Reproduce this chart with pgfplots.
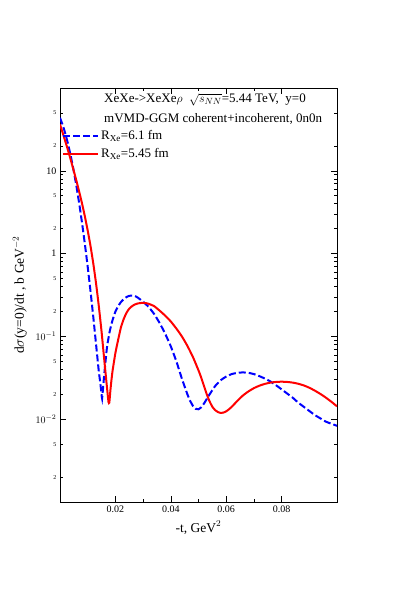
\documentclass[border=0pt]{standalone}
\usepackage{fontspec}
\setmainfont{Liberation Serif}
\usepackage{pgfplots}
\pgfplotsset{compat=1.18}
\begin{document}
\begin{tikzpicture}[x=1pt,y=1pt]
\path (0,0) rectangle (395,593);
\begin{axis}[
  at={(60pt,91pt)}, anchor=south west,
  scale only axis, width=277pt, height=414pt,
  xmin=0, xmax=0.1, ymode=log, ymin=1e-3, ymax=100,
  xtick={0.02,0.04,0.06,0.08},
  xticklabels={0.02,0.04,0.06,0.08},
  minor x tick num=1,
  ytick={0.01,0.1,1,10},
  yticklabels={$10^{-2}$,$10^{-1}$,1,10},
  extra y ticks={0.002,0.005,0.02,0.05,0.2,0.5,2,5,20,50},
  extra y tick labels={2,5,2,5,2,5,2,5,2,5},
  extra y tick style={major tick length=3pt, tick label style={font=\fontsize{6}{7}\selectfont}},
  major tick length=6pt, minor tick length=3pt,
  tick style={black, line width=0.5pt},
  axis line style={line width=0.9pt},
  tick label style={font=\fontsize{10}{12}\selectfont},
  /pgf/number format/assume math mode=true,
  xlabel={-t, GeV$^2$},
  ylabel={d$\sigma$(y=0)/dt , b GeV$^{-2}$},
  label style={font=\fontsize{13.5}{15}\selectfont},
  xlabel style={yshift=-2pt},
  ylabel style={yshift=2pt},
  legend style={at={(rel axis cs:0.007,0.903)}, anchor=north west, draw=none, fill=none,
    font=\fontsize{13}{15}\selectfont, row sep=3.5pt, inner sep=0pt},
  legend cell align=left,
  legend image code/.code={\draw[#1] (0pt,0pt) -- (35pt,0pt);},
]
\addplot[blue, line width=2pt, dash pattern=on 7pt off 3pt, smooth, tension=0.3] coordinates {
(0,43.65)(0.001,35.48)(0.002,27.54)(0.003,20.42)(0.004,14.45)(0.005,9.772)(0.006,6.310)
(0.007,3.890)(0.008,2.291)(0.009,1.288)(0.010,0.6918)(0.011,0.3548)(0.012,0.1738)
(0.013,0.08128)(0.014,0.03802)(0.0145,0.02818)(0.015,0.01995)(0.0152,0.01778)(0.0156,0.02512)
(0.016,0.03548)(0.0165,0.05248)(0.017,0.07586)(0.018,0.1175)(0.019,0.1585)(0.020,0.1995)
(0.021,0.2317)(0.022,0.2600)(0.023,0.2818)(0.024,0.2985)(0.025,0.3090)(0.026,0.3112)
(0.027,0.3076)(0.028,0.2951)(0.030,0.2630)(0.032,0.2265)(0.034,0.1862)(0.036,0.1445)
(0.038,0.1072)(0.040,0.07586)(0.042,0.05012)(0.044,0.03090)(0.046,0.01995)(0.047,0.01660)
(0.048,0.01445)(0.049,0.01334)(0.050,0.01318)(0.051,0.01396)(0.052,0.01549)(0.053,0.01758)
(0.054,0.01995)(0.056,0.02512)(0.058,0.02951)(0.060,0.03273)(0.062,0.03508)(0.064,0.03631)
(0.066,0.03673)(0.068,0.03631)(0.070,0.03508)(0.072,0.03311)(0.074,0.03090)(0.076,0.02851)
(0.078,0.02570)(0.080,0.02291)(0.082,0.02042)(0.084,0.01820)(0.086,0.01585)(0.088,0.01413)
(0.090,0.01259)(0.092,0.01122)(0.094,0.01023)(0.096,0.009333)(0.098,0.008810)(0.100,0.008318)};
\addlegendentry{R\textsubscript{Xe}=6.1 fm}
\addplot[red, line width=2pt, smooth, tension=0.3] coordinates {
(0,36.31)(0.001,28.51)(0.002,22.23)(0.003,17.18)(0.004,13.12)(0.005,9.886)(0.006,7.413)
(0.007,5.470)(0.008,3.963)(0.009,2.793)(0.010,1.901)(0.011,1.242)(0.012,0.7656)(0.013,0.4406)
(0.014,0.2339)(0.015,0.1146)(0.016,0.05129)(0.017,0.02344)(0.0175,0.01622)(0.0178,0.01585)
(0.0182,0.02239)(0.0186,0.03020)(0.019,0.03890)(0.020,0.06310)(0.021,0.09120)(0.022,0.1288)
(0.023,0.1622)(0.024,0.1928)(0.025,0.2163)(0.026,0.2317)(0.027,0.2427)(0.028,0.2495)
(0.029,0.2529)(0.030,0.2541)(0.031,0.2523)(0.032,0.2477)(0.034,0.2317)(0.036,0.2042)
(0.038,0.1778)(0.040,0.1514)(0.042,0.1245)(0.044,0.1000)(0.046,0.07674)(0.048,0.05623)
(0.050,0.03890)(0.051,0.03162)(0.052,0.02512)(0.053,0.01995)(0.054,0.01641)(0.055,0.01413)
(0.056,0.01288)(0.057,0.01222)(0.058,0.01189)(0.059,0.01202)(0.060,0.01245)(0.061,0.01318)
(0.062,0.01413)(0.064,0.01660)(0.066,0.01928)(0.068,0.02163)(0.070,0.02371)(0.072,0.02541)
(0.074,0.02673)(0.076,0.02767)(0.078,0.02818)(0.080,0.02838)(0.082,0.02818)(0.084,0.02767)
(0.086,0.02679)(0.088,0.02559)(0.090,0.02399)(0.092,0.02213)(0.094,0.02018)(0.096,0.01820)
(0.098,0.01622)(0.100,0.01429)};
\addlegendentry{R\textsubscript{Xe}=5.45 fm}
\begin{scope}
\clip (rel axis cs:0,0) rectangle (rel axis cs:1,1);
\node[anchor=west, inner sep=0pt, font=\fontsize{13}{15}\selectfont] at (rel axis cs:0.159,0.971) {XeXe->XeXe$\rho$\ \ $\sqrt{s_{NN}}$=5.44 TeV,\ \ y=0};
\node[anchor=west, inner sep=0pt, font=\fontsize{13}{15}\selectfont] at (rel axis cs:0.159,0.925) {mVMD-GGM coherent+incoherent, 0n0n};
\end{scope}
\end{axis}
\end{tikzpicture}
\end{document}
